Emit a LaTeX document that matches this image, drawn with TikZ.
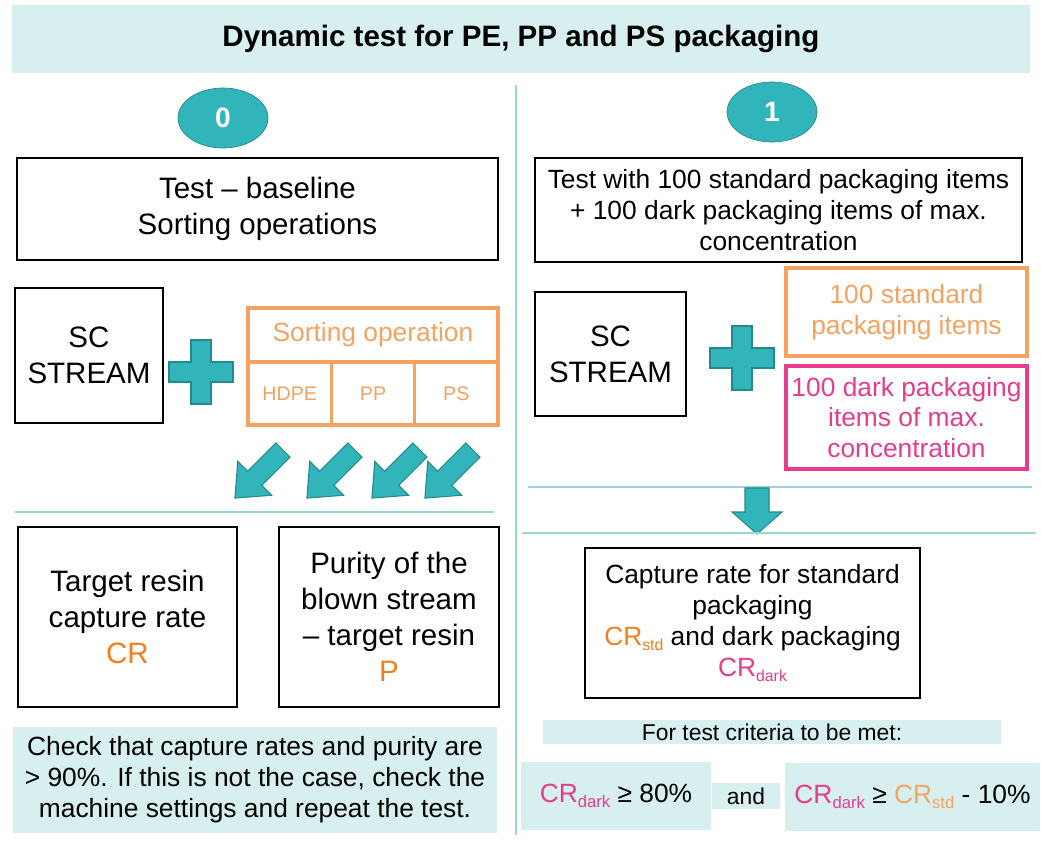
\documentclass[tikz,border=0pt]{standalone}
\usepackage{fontspec}
\setmainfont{Liberation Sans}
\usetikzlibrary{shapes.geometric,positioning}

\definecolor{tealfill}{HTML}{31B5BA}
\definecolor{tealedge}{HTML}{23898C}
\definecolor{palefill}{HTML}{D7F0EF}
\definecolor{rulecol}{HTML}{9AD6D6}
\definecolor{softorange}{HTML}{F4A261}
\definecolor{deeporange}{HTML}{F07F1E}
\definecolor{darkpink}{HTML}{E53D8E}

\newcommand\fsz[2]{\fontsize{#1}{#2}\selectfont}
\newcommand\lowsub[2]{\raisebox{-0.35ex}{\fontsize{#1}{#1}\selectfont #2}}

\begin{document}
\begin{tikzpicture} [x=0.02cm,y=-0.02cm,
    every node/.style={align=center, inner sep=0pt, outer sep=0pt},
    textbox/.style={draw=black, line width=1.2pt, font=\fsz{16.8}{20.5}},
    widebox/.style={draw=black, line width=1.2pt, font=\fsz{15}{17.6}},
    sortbox/.style={draw=softorange, line width=1.8pt, text=softorange},
    cell/.style={sortbox, minimum width=1.6667cm, minimum height=1.26cm, font=\fsz{11.2}{13}},
    pinkbox/.style={draw=darkpink, line width=1.8pt, text=darkpink, font=\fsz{15}{17.6}},
    notebox/.style={fill=palefill},
    badge/.style={ellipse, fill=tealfill, draw=tealedge, text=white,
      font=\bfseries\fsz{16}{16}, minimum width=1.8cm, minimum height=1.2cm},
    rule/.style={draw=rulecol, line width=0.6pt},
    block/.style={fill=tealfill, draw=tealedge, line width=0.6pt}
    ]
    \useasboundingbox (0,0) rectangle (1041,845);

    \node (title) [notebox, minimum width=20.36cm, minimum height=1.36cm,
      font=\bfseries\fsz{16.8}{20}] at (521,39) {Dynamic test for PE, PP and PS packaging};
    \draw [rule] (516,85) -- (516,835);

    % left column: baseline test
    \node (b0) [badge] at (223,118) {0};
    \node (test0) [textbox, minimum width=9.62cm, minimum height=2.04cm] at (257.5,209)
      {Test -- baseline\\Sorting operations};
    \node (sc0) [textbox, minimum width=2.96cm, minimum height=2.7cm] at (89,355.5)
      {SC\\STREAM};
    \node (sort) [sortbox, minimum width=5cm, minimum height=1.08cm,
      font=\fsz{15}{17}] at (373,335) {Sorting operation};
    \node (hdpe) [cell, anchor=north west] at (sort.south west) {HDPE};
    \node (pp) [cell, right=0pt of hdpe] {PP};
    \node (ps) [cell, right=0pt of pp] {PS};

    \filldraw [block, shift={(201,372)}] (-10,-32) -- (10,-32) -- (10,-10) -- (32,-10)
      -- (32,10) -- (10,10) -- (10,32) -- (-10,32) -- (-10,10) -- (-32,10) -- (-32,-10)
      -- (-10,-10) -- cycle;
    \foreach \x in {283,355,420,473}
      \filldraw [block, shift={(\x,450)}, rotate=225] (0,-10) -- (40,-10) -- (40,-24)
        -- (68,0) -- (40,24) -- (40,10) -- (0,10) -- cycle;
    \draw [rule] (15,512) -- (494,512);

    \node (target) [textbox, minimum width=4.38cm, minimum height=3.6cm] at (127.5,617)
      {Target resin\\capture rate\\\textcolor{deeporange}{CR}};
    \node (purity) [textbox, minimum width=4.4cm, minimum height=3.6cm] at (389,617)
      {Purity of the\\blown stream\\-- target resin\\\textcolor{deeporange}{P}};
    \node (check) [notebox, minimum width=9.68cm, minimum height=2.12cm,
      font=\fsz{15}{17.6}] at (255,780)
      {Check that capture rates and purity are\\> 90\%. If this is not the case, check the\\
       machine settings and repeat the test.};

    % right column: dark packaging test
    \node (b1) [badge] at (772,112) {1};
    \node (test1) [widebox, minimum width=9.74cm, minimum height=2.08cm] at (778.5,210)
      {Test with 100 standard packaging items\\+ 100 dark packaging items of max.\\
       concentration};
    \node (sc1) [textbox, minimum width=3.02cm, minimum height=2.48cm] at (610.5,354)
      {SC\\STREAM};
    \node (std) [sortbox, minimum width=4.82cm, minimum height=1.76cm,
      font=\fsz{15}{17.6}] at (906.5,312) {100 standard\\packaging items};
    \node (dark) [pinkbox, minimum width=4.82cm, minimum height=2.06cm] at (906.5,417.5)
      {100 dark packaging\\items of max.\\concentration};

    \filldraw [block, shift={(742,358)}] (-10,-32) -- (10,-32) -- (10,-10) -- (32,-10)
      -- (32,10) -- (10,10) -- (10,32) -- (-10,32) -- (-10,10) -- (-32,10) -- (-32,-10)
      -- (-10,-10) -- cycle;
    \draw [rule] (528,487) -- (1032,487);
    \filldraw [block, shift={(757,488)}] (-12,0) -- (12,0) -- (12,24) -- (25,24)
      -- (0,46) -- (-25,24) -- (-12,24) -- cycle;
    \draw [rule] (522,533) -- (1036,533);

    \node (capture) [widebox, minimum width=6.7cm, minimum height=3cm] at (752.5,623)
      {Capture rate for standard\\packaging\\
       \textcolor{deeporange}{CR\lowsub{9}{std}} and dark packaging\\
       \textcolor{darkpink}{CR\lowsub{9}{dark}}};
    \node (crit) [notebox, minimum width=9.16cm, minimum height=0.48cm,
      font=\fsz{13}{14}] at (772,732) {For test criteria to be met:};
    \node (c1) [notebox, minimum width=3.8cm, minimum height=1.36cm,
      font=\fsz{15}{17}] at (616,796)
      {\textcolor{darkpink}{CR\lowsub{9.5}{dark}} ≥ 80\%};
    \node (and) [notebox, minimum width=1.36cm, minimum height=0.52cm,
      font=\fsz{13}{14}] at (746,796) {and};
    \node (c2) [notebox, minimum width=5.1cm, minimum height=1.36cm,
      font=\fsz{15}{17}] at (912.5,797)
      {\textcolor{darkpink}{CR\lowsub{9.5}{dark}} ≥
       \textcolor{softorange}{CR\lowsub{9.5}{std}} - 10\%};
  \end{tikzpicture}
\end{document}
